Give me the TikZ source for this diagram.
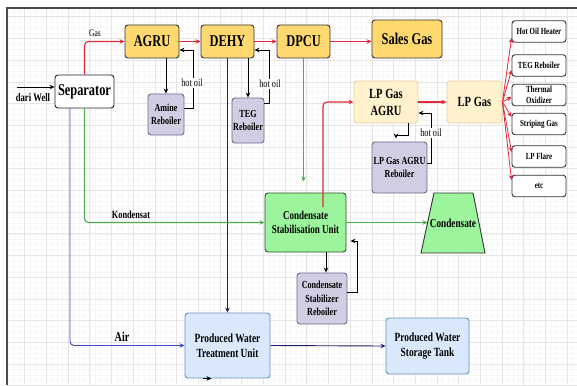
\documentclass[tikz,border=0pt]{standalone}
\usepackage{fontspec}
\setmainfont{Liberation Serif}[FakeStretch=0.75]
\usetikzlibrary{arrows.meta,calc}
\definecolor{gold}{HTML}{FFD970}
\definecolor{pale}{HTML}{FFF2CC}
\definecolor{paleb}{HTML}{E6D2A6}
\definecolor{lav}{HTML}{D0CEE2}
\definecolor{lavb}{HTML}{6E6A8E}
\definecolor{lgreen}{HTML}{9CF59C}
\definecolor{dgreen}{HTML}{2F4F2F}
\definecolor{lblue}{HTML}{DAE8FC}
\definecolor{bblue}{HTML}{6C8EBF}
\definecolor{lred}{HTML}{E0283A}
\definecolor{lgrn}{HTML}{4FAF4F}
\definecolor{navy}{HTML}{1E1E70}
\definecolor{airb}{HTML}{4545C8}
\definecolor{framec}{HTML}{4A4A4A}
\tikzset{
  box/.style={draw, rounded corners=3pt, inner sep=0pt, align=center, line width=0.9pt},
  goldbox/.style={box, fill=gold, draw=black!80, minimum height=33pt,
    font=\bfseries\fontsize{16.5pt}{18pt}\selectfont},
  palebox/.style={box, fill=pale, draw=paleb, minimum height=42pt,
    font=\bfseries\fontsize{14pt}{17pt}\selectfont},
  rebbox/.style={box, fill=lav, draw=lavb, font=\bfseries\fontsize{10.8pt}{13pt}\selectfont},
  usebox/.style={box, fill=white, draw=black!80, minimum width=54pt, minimum height=21.5pt,
    font=\bfseries\fontsize{9.3pt}{11pt}\selectfont},
  waterbox/.style={box, fill=lblue, draw=bblue, font=\bfseries\fontsize{12.5pt}{15pt}\selectfont},
  lbl/.style={inner sep=1pt, font=\fontsize{11pt}{12pt}\selectfont},
  hotlbl/.style={lbl, fill=white},
  arr/.style={-{Stealth[length=5pt,width=4.5pt]}, line width=0.9pt, rounded corners=4pt},
  redarr/.style={arr, draw=lred, line width=1.1pt},
  grnarr/.style={arr, draw=lgrn, line width=1.1pt},
  navarr/.style={arr, draw=navy},
  airarr/.style={arr, draw=airb},
  blkarr/.style={arr, draw=black, rounded corners=0pt},
}
\begin{document}
\begin{tikzpicture}[x=1pt,y=-1pt]
\useasboundingbox (0,0) rectangle (577,385);
\fill[white] (0,0) rectangle (577,385);
% grid
\begin{scope}
\clip (7,8) rectangle (577,385);
\foreach \i in {0,...,110} \draw[black!3, line width=0.3pt] ({-2.5+5.425*\i},8) -- ++(0,377);
\foreach \j in {0,...,75} \draw[black!3, line width=0.3pt] (7,{-5+5.425*\j}) -- ++(570,0);
\foreach \i in {0,...,27} \draw[black!10, line width=0.5pt] ({2.9+21.7*\i},8) -- ++(0,377);
\foreach \j in {0,...,18} \draw[black!10, line width=0.5pt] (7,{-5+21.7*\j}) -- ++(570,0);
\end{scope}
\draw[framec, line width=2pt] (7,385) -- (7,8) -- (577,8);

% nodes
\node[box, fill=white, draw=black!85, minimum width=59pt, minimum height=33pt,
  font=\bfseries\fontsize{16.5pt}{18pt}\selectfont] (sep) at (84.5,91.5) {Separator};
\node[goldbox, minimum width=54pt] (agru) at (152,41.5) {AGRU};
\node[goldbox, minimum width=53pt] (dehy) at (227.5,41.5) {DEHY};
\node[goldbox, minimum width=53pt] (dpcu) at (303.5,41.5) {DPCU};
\node[goldbox, minimum width=70pt, minimum height=38pt] (sales) at (407,39) {Sales Gas};
\node[rebbox, minimum width=36pt, minimum height=41pt] (amine) at (166,114.5) {Amine\\Reboiler};
\node[rebbox, minimum width=32pt, minimum height=45pt] (teg) at (248,120.5) {TEG\\Reboiler};
\node[palebox, minimum width=64pt] (lpagru) at (386,102) {LP Gas\\AGRU};
\node[palebox, minimum width=55pt] (lpgas) at (474.5,102) {LP Gas};
\node[rebbox, minimum width=55pt, minimum height=51pt] (lpreb) at (399.5,167.5) {LP Gas AGRU\\Reboiler};
\node[usebox] (hoh) at (539,31.5) {Hot Oil Heater};
\node[usebox] (tegr) at (539,65.5) {TEG Reboiler};
\node[usebox] (thox) at (539,95) {Thermal\\Oxidizer};
\node[usebox] (strip) at (539,124) {Striping Gas};
\node[usebox] (lpf) at (539,156.5) {LP Flare};
\node[usebox] (etc) at (539,186) {etc};
\node[box, fill=lgreen, draw=dgreen, minimum width=81pt, minimum height=59pt,
  font=\bfseries\fontsize{12pt}{14pt}\selectfont] (csu) at (305.5,222.5) {Condensate\\Stabilisation Unit};
\draw[fill=lgreen, draw=black!80, line width=0.9pt] (434,193) -- (473,193) -- (485,253) -- (421,253) -- cycle;
\node[inner sep=0pt, font=\bfseries\fontsize{12.3pt}{14pt}\selectfont] (cond) at (453,223) {Condensate};
\coordinate (condw) at (427.5,222.5);
\node[rebbox, minimum width=50pt, minimum height=51pt, font=\bfseries\fontsize{10.8pt}{13.5pt}\selectfont]
  (cstreb) at (322,298.5) {Condensate\\Stabilizer\\Reboiler};
\node[waterbox, minimum width=85pt, minimum height=65pt] (pwtu) at (227.5,345.5) {Produced Water\\Treatment Unit};
\node[waterbox, minimum width=83pt, minimum height=56pt] (pwst) at (427.5,346) {Produced Water\\Storage Tank};

% inlet
\coordinate (well) at (17,87);
\draw[blkarr] (well) -- (well -| sep.west);
\node[lbl, font=\bfseries\fontsize{11.5pt}{13pt}\selectfont] (dw) at (33,98) {dari Well};

% gas train
\draw[redarr] (sep.north) |- (agru.west);
\node[lbl, font=\fontsize{10pt}{12pt}\selectfont] (gaslbl) at (95,33) {Gas};
\draw[redarr] (agru.east) -- (dehy.west);
\draw[redarr] (dehy.east) -- (dpcu.west);
\draw[redarr] (dpcu.east) -- (sales.west |- dpcu.east);

% reboilers
\draw[blkarr] (amine.north |- agru.south) -- (amine.north);
\draw[blkarr] ([yshift=6.5pt]amine.east) -- ++(9,0) |- ([yshift=-8.5pt]agru.east);
\node[hotlbl] (ho1) at (192,83) {hot oil};
\draw[blkarr] (teg.north |- dehy.south) -- (teg.north);
\draw[blkarr] ([yshift=17.5pt]teg.east) -- ++(5,0) |- ([yshift=-8.5pt]dehy.east);
\node[hotlbl] (ho2) at (270,84) {hot oil};
\draw[blkarr] ([xshift=22pt]lpagru.south) -- ++(0,12) -| ([xshift=-3.5pt,yshift=3pt]lpreb.north);
\draw[blkarr] ([yshift=4.5pt]lpreb.east) -- ++(4,0) |- ([yshift=-11pt]lpagru.east);
\node[hotlbl] (ho3) at (431,133) {hot oil};
\draw[blkarr] ([xshift=20.5pt]csu.south) -- ([xshift=4pt]cstreb.north);
\draw[blkarr] ([yshift=6.5pt]cstreb.east) -- ++(10,0) |- ([xshift=4pt,yshift=-18.5pt]csu.east);

% water
\draw[navarr] (dehy.south) -- (pwtu.north);
\draw[airarr] ([xshift=-14.5pt]sep.south) |- (pwtu.west);
\node[lbl, font=\bfseries\fontsize{13.5pt}{15pt}\selectfont] (airl) at (122,337) {Air};
\draw[navarr] (pwtu.east) -- (pwst.west);
\draw[blkarr] ([xshift=-25pt]pwtu.south) -- ([xshift=-16pt]pwtu.south);

% condensate
\draw[grnarr] (sep.south) |- (csu.west);
\node[lbl, font=\bfseries\fontsize{11pt}{13pt}\selectfont] (kond) at (131,215) {Kondensat};
\draw[grnarr, shorten >=11pt] (dpcu.south) -- (dpcu.south |- csu.north);
\draw[grnarr] (csu.east) -- (condw);

% LP gas
\draw[redarr] ([xshift=17.5pt,yshift=15.5pt]csu.center) |- (lpagru.west);
\draw[redarr] (lpagru.east) -- (lpgas.west);
\foreach \t/\s in {hoh/-6.5, tegr/-4.5, thox/-2, strip/7, lpf/4.5, etc/6}
  \draw[redarr, line width=0.8pt] (lpgas.east) -- ([yshift=\s pt]\t.west);
\end{tikzpicture}
\end{document}
